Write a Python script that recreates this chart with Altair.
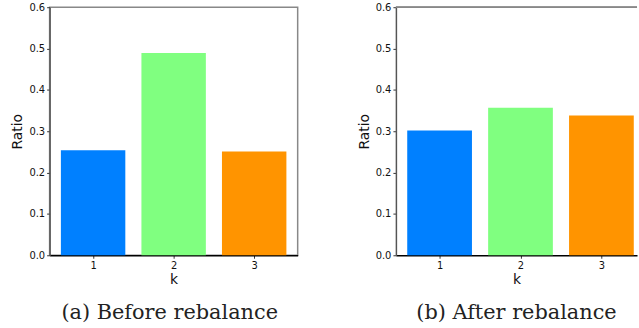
import altair as alt
import pandas as pd

k = [1, 2, 3]
before = [0.254, 0.489, 0.251]
after = [0.302, 0.357, 0.338]
colors = ["#0080FF", "#80FF80", "#FF9400"]
captions = ["(a) Before rebalance", "(b) After rebalance"]

FONT = "DejaVu Sans"


def panel(values, caption, width, xmax, view_stroke, dx):
    df = pd.DataFrame({"k": k, "ratio": values, "color": colors})
    xs = alt.Scale(domain=[0.46, xmax], nice=False, zero=False)
    ys = alt.Scale(domain=[0, 0.6], nice=False)
    bars = (
        alt.Chart(df)
        .transform_calculate(x0="datum.k - 0.4", x1="datum.k + 0.4")
        .mark_rect()
        .encode(
            x=alt.X("x0:Q", scale=xs,
                    axis=alt.Axis(values=k, format="d", title="k", grid=False,
                                  domainColor="black", domainWidth=1.5,
                                  tickSize=3, tickColor="#333", labelPadding=2,
                                  labelFont=FONT, labelFontSize=10, labelColor="#111",
                                  titleFont=FONT, titleFontSize=14, titleFontWeight="normal",
                                  titlePadding=2, titleColor="#111")),
            x2="x1:Q",
            y=alt.Y("ratio:Q", scale=ys,
                    axis=alt.Axis(values=[0, 0.1, 0.2, 0.3, 0.4, 0.5, 0.6], format=".1f",
                                  title="Ratio", grid=False,
                                  domainColor="#555", domainWidth=1.5,
                                  tickSize=3, tickColor="#333", labelPadding=2,
                                  labelFont=FONT, labelFontSize=10, labelColor="#111",
                                  titleFont=FONT, titleFontSize=14, titleFontWeight="normal",
                                  titlePadding=4, titleColor="#111")),
            y2=alt.Y2(datum=0),
            color=alt.Color("color:N", scale=None, legend=None),
        )
    )
    layers = [bars]
    if not view_stroke:
        top = (
            alt.Chart(df)
            .mark_rule(color="#888", strokeWidth=1.5)
            .encode(x=alt.X(datum=0.46, scale=xs), x2=alt.X2(datum=xmax),
                    y=alt.Y(datum=0.6, scale=ys))
        )
        layers.append(top)
    ch = alt.layer(*layers).properties(
        width=width,
        height=250,
        title=alt.TitleParams(caption, orient="bottom", font="DejaVu Serif",
                              fontSize=21, fontWeight="normal", color="#222",
                              offset=16, anchor="middle", dx=dx),
        view=alt.ViewBackground(stroke="#888" if view_stroke else "transparent",
                                strokeWidth=1.5),
    )
    return ch


left = panel(before, captions[0], 250, 3.54, True, -4)
right = panel(after, captions[1], 243, 3.44, False, 0)

chart = (
    alt.hconcat(left, right, spacing=58)
    .properties(padding={"left": 10, "top": 0, "right": 0, "bottom": 0})
    .configure(background="white")
)

chart.save("out.html", embed_options={"renderer": "svg", "actions": False})
